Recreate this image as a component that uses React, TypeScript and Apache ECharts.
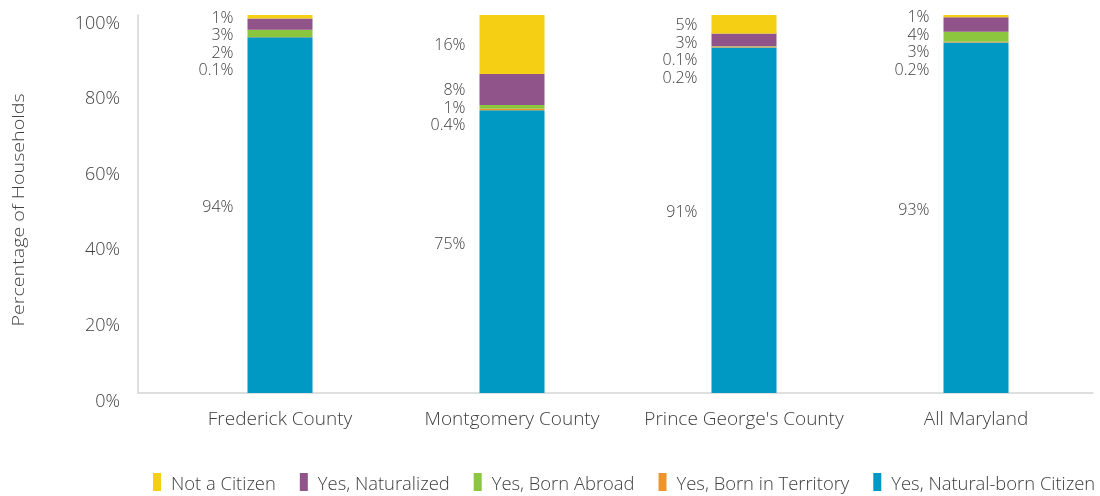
import React, { useEffect, useRef } from "react";
import * as echarts from "echarts";

const categories = ["Frederick County", "Montgomery County", "Prince George's County", "All Maryland"];
const notCitizen = [0.9, 15.6, 4.9, 0.6];
const naturalized = [3.0, 8.2, 3.4, 3.8];
const bornAbroad = [1.9, 1.0, 0.1, 2.7];
const bornTerritory = [0.1, 0.4, 0.2, 0.2];
const naturalBorn = [94.1, 74.8, 91.4, 92.7];
const yMin = 0;
const yMax = 100;
const yStep = 20;
const yTitle = "Percentage of Households";

const seriesNames = {
  natural: "Yes, Natural-born Citizen",
  territory: "Yes, Born in Territory",
  abroad: "Yes, Born Abroad",
  naturalized: "Yes, Naturalized",
  notCitizen: "Not a Citizen",
};

const FONT = "Open Sans";
const WEIGHT = 300;
const TEXT = "#404040";
const AXIS = "#d4d4d4";

const fmtPct = (v: number) => (v < 0.5 ? v.toFixed(1) : String(Math.round(v))) + "%";

export default function App() {
  const ref = useRef<HTMLDivElement>(null);
  useEffect(() => {
    const chart = echarts.init(ref.current!, null, { renderer: "svg" });
    const stack = [
      { name: seriesNames.natural, data: naturalBorn, color: "#0099C4" },
      { name: seriesNames.territory, data: bornTerritory, color: "#EF942B" },
      { name: seriesNames.abroad, data: bornAbroad, color: "#8CC63F" },
      { name: seriesNames.naturalized, data: naturalized, color: "#91548A" },
      { name: seriesNames.notCitizen, data: notCitizen, color: "#F4CF13" },
    ];
    const labelFont = { fontFamily: FONT, fontWeight: WEIGHT, fontSize: 16, lineHeight: 16, color: TEXT };
    const baseSeries = stack.map((s, k) => ({
      type: "bar",
      name: s.name,
      stack: "total",
      xAxisIndex: 0,
      yAxisIndex: 0,
      barWidth: 65,
      clip: false,
      data: s.data,
      itemStyle: { color: s.color },
      label: {
        show: true,
        position: "left",
        distance: 14,
        offset: k === 0 ? [0, -9] : [0, 0],
        formatter: (p: any) => fmtPct(p.value),
        ...labelFont,
      },
    }));
    const option: any = {
      animation: false,
      textStyle: { fontFamily: FONT },
      grid: [
        { left: 164, right: 8, top: 15, bottom: 103 },
        { left: 138, right: 7, top: 15, bottom: 103 },
      ],
      graphic: [
        {
          type: "text",
          x: 18,
          y: 210,
          rotation: Math.PI / 2,
          scaleX: 1.27,
          style: {
            text: yTitle,
            fontFamily: FONT,
            fontWeight: WEIGHT,
            fontSize: 15.5,
            fill: TEXT,
            align: "center",
            verticalAlign: "middle",
          },
        },
      ],
      xAxis: [
        {
          type: "category",
          gridIndex: 0,
          data: categories,
          axisLine: { show: false },
          axisTick: { show: false },
          axisLabel: { interval: 0, margin: 15, fontFamily: FONT, fontWeight: WEIGHT, fontSize: 19, color: TEXT },
        },
        {
          type: "value",
          gridIndex: 1,
          min: 0,
          max: 1,
          axisLine: { show: true, lineStyle: { color: AXIS, width: 1.5 } },
          axisTick: { show: false },
          axisLabel: { show: false },
          splitLine: { show: false },
        },
      ],
      yAxis: [
        { type: "value", gridIndex: 0, min: yMin, max: yMax, show: false },
        {
          type: "value",
          gridIndex: 1,
          min: yMin,
          max: yMax,
          interval: yStep,
          axisLine: { show: true, lineStyle: { color: AXIS, width: 1.5 } },
          axisTick: { show: false },
          splitLine: { show: false },
          axisLabel: {
            margin: 18,
            verticalAlign: "top",
            lineHeight: 13,
            formatter: "{value}%",
            fontFamily: FONT,
            fontWeight: WEIGHT,
            fontSize: 18,
            color: TEXT,
          },
        },
      ],
      legend: {
        left: 153,
        top: 473,
        padding: 0,
        icon: "rect",
        itemWidth: 8,
        itemHeight: 18,
        itemGap: 24,
        data: [
          seriesNames.notCitizen,
          seriesNames.naturalized,
          seriesNames.abroad,
          seriesNames.territory,
          seriesNames.natural,
        ],
        textStyle: { fontFamily: FONT, fontWeight: WEIGHT, fontSize: 18.4, color: TEXT, padding: [0, 0, 0, 5] },
      },
      series: baseSeries,
    };
    chart.setOption(option);

    // Stack small-segment labels downward from their segment centres so they do not overlap.
    const spacing = 17.5;
    const ys: number[][] = stack.map(() => []);
    categories.forEach((_, i) => {
      let cum = 0;
      const centers: number[] = [];
      stack.forEach((s, k) => {
        const mid = cum + s.data[i] / 2;
        cum += s.data[i];
        const px = chart.convertToPixel({ xAxisIndex: 0, yAxisIndex: 0 }, [i, mid]) as number[];
        centers[k] = px[1];
      });
      let prev = -Infinity;
      for (let k = stack.length - 1; k >= 1; k--) {
        const y = Math.max(centers[k], prev + spacing);
        ys[k][i] = y;
        prev = y;
      }
    });
    chart.setOption({
      series: stack.map((_, k) =>
        k === 0
          ? {}
          : {
              labelLayout: (p: any) => ({
                x: p.rect.x - 14,
                y: ys[k][p.dataIndex],
                align: "right",
                verticalAlign: "middle",
              }),
            }
      ),
    });
    return () => chart.dispose();
  }, []);
  return <div ref={ref} style={{ position: "fixed", left: 0, top: 0, width: 1100, height: 496 }} />;
}
